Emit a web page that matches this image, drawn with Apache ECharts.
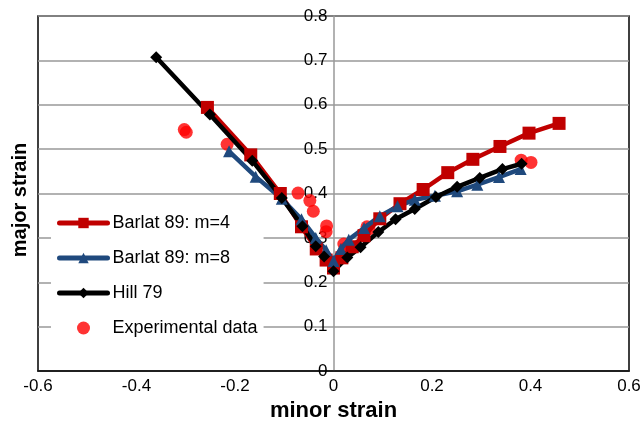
<!DOCTYPE html>
<html>
<head>
<meta charset="utf-8">
<script src="https://cdn.jsdelivr.net/npm/echarts@6/dist/echarts.min.js"></script>
<style>
  html, body { margin: 0; padding: 0; background: #fff; }
  #container { width: 643px; height: 422px; }
</style>
</head>
<body>
<div id="container"></div>
<script>
// [minor strain, major strain] pairs
var barlat4 = [
    [-0.256, 0.594], [-0.168, 0.487], [-0.108, 0.400], [-0.065, 0.325], [-0.035, 0.275],
    [-0.015, 0.250], [0, 0.232], [0.017, 0.255], [0.038, 0.280], [0.062, 0.305],
    [0.094, 0.343], [0.135, 0.377], [0.182, 0.409], [0.232, 0.447], [0.283, 0.477],
    [0.338, 0.506], [0.397, 0.536], [0.458, 0.558]
];
var barlat8 = [
    [-0.212, 0.495], [-0.158, 0.438], [-0.105, 0.388], [-0.065, 0.342], [-0.036, 0.300],
    [-0.015, 0.272], [0, 0.248], [0.015, 0.275], [0.031, 0.296], [0.062, 0.322],
    [0.094, 0.349], [0.130, 0.371], [0.165, 0.386], [0.206, 0.395], [0.251, 0.405],
    [0.292, 0.420], [0.336, 0.437], [0.380, 0.455]
];
var hill79 = [
    [-0.360, 0.707], [-0.251, 0.578], [-0.165, 0.474], [-0.105, 0.390], [-0.063, 0.326],
    [-0.036, 0.281], [-0.019, 0.258], [0, 0.225], [0.028, 0.256], [0.055, 0.279],
    [0.091, 0.313], [0.126, 0.342], [0.165, 0.365], [0.208, 0.392], [0.251, 0.415],
    [0.297, 0.435], [0.343, 0.455], [0.382, 0.467]
];
var experimental = [
    [-0.303, 0.544], [-0.299, 0.538], [-0.216, 0.511], [-0.072, 0.401], [-0.048, 0.384],
    [-0.041, 0.360], [-0.014, 0.327], [-0.015, 0.314], [0.021, 0.286], [0.025, 0.277],
    [0.068, 0.325], [0.072, 0.320], [0.381, 0.475], [0.401, 0.470]
];
var seriesNames = ['Barlat 89: m=4', 'Barlat 89: m=8', 'Hill 79', 'Experimental data'];

var font = 'Liberation Sans, Arial, sans-serif';
var myChart = echarts.init(document.getElementById('container'));

var gridLeft = 38, gridRight = 14;
// y axis sits on minor strain = 0, the middle of the -0.6..0.6 range
var zeroShift = (643 - gridLeft - gridRight) / 2;

var option = {
    animation: false,
    backgroundColor: '#fff',
    grid: {
        left: gridLeft, right: gridRight, top: 16, bottom: 51,
        outerBoundsMode: 'none',
        show: true,
        borderColor: '#000',
        borderWidth: 1.5
    },
    legend: {
        orient: 'vertical',
        left: 51, top: 208,
        padding: [6, 6, 8, 6],
        backgroundColor: '#fff',
        itemWidth: 48, itemHeight: 13,
        itemGap: 17,
        lineStyle: { width: 5, cap: 'round' },
        textStyle: { fontSize: 18, fontFamily: font, color: '#000' },
        data: seriesNames
    },
    graphic: [{
        type: 'text',
        x: 20, y: 200,
        rotation: Math.PI / 2,
        style: {
            text: 'major strain',
            font: 'bold 20px ' + font,
            fill: '#000',
            align: 'center',
            verticalAlign: 'middle'
        }
    }],
    xAxis: {
        type: 'value',
        min: -0.6, max: 0.6, interval: 0.2,
        name: 'minor strain',
        nameLocation: 'middle',
        nameGap: 29,
        nameMoveOverlap: false,
        nameTextStyle: { fontSize: 22, fontWeight: 'bold', fontFamily: font, color: '#000' },
        axisLine: { onZero: false, lineStyle: { color: '#000', width: 1.5 } },
        axisTick: { show: false },
        splitLine: { show: false },
        axisLabel: { fontSize: 17, fontFamily: font, color: '#000', margin: 7 }
    },
    yAxis: {
        type: 'value',
        min: 0, max: 0.8, interval: 0.1,
        offset: -zeroShift,
        axisLine: { show: true, onZero: false, lineStyle: { color: '#999', width: 1.5 } },
        axisTick: { show: false },
        splitLine: { lineStyle: { color: '#999', width: 1.5 } },
        axisLabel: { fontSize: 17, fontFamily: font, color: '#000', margin: 6 }
    },
    series: [{
        name: seriesNames[0],
        type: 'line',
        data: barlat4,
        color: '#c00000',
        lineStyle: { width: 4.5 },
        symbol: 'rect',
        symbolSize: 13
    }, {
        name: seriesNames[1],
        type: 'line',
        data: barlat8,
        color: '#1f497d',
        lineStyle: { width: 4.5 },
        symbol: 'triangle',
        symbolSize: 12
    }, {
        name: seriesNames[2],
        type: 'line',
        data: hill79,
        color: '#000',
        lineStyle: { width: 4.5 },
        symbol: 'diamond',
        symbolSize: 12
    }, {
        name: seriesNames[3],
        type: 'scatter',
        data: experimental,
        color: '#ff0000',
        symbol: 'circle',
        symbolSize: 13
    }]
};
myChart.setOption(option);
</script>
</body>
</html>
